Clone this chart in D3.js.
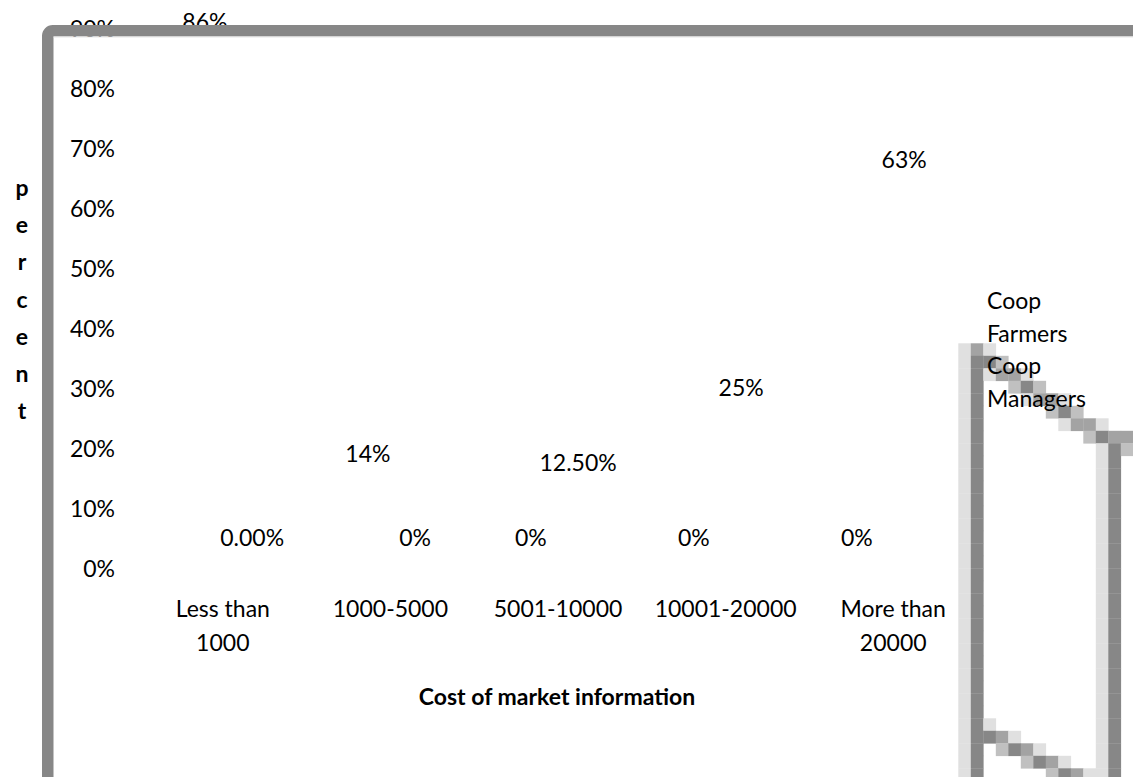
<!DOCTYPE html>
<html>
<head>
<meta charset="utf-8">
<script src="https://cdn.jsdelivr.net/npm/d3@7"></script>
<style>
  html, body { margin: 0; padding: 0; background: #ffffff; }
  svg { display: block; }
  text { font-family: Lato, "Open Sans", sans-serif; fill: #000; }
</style>
</head>
<body>
<svg id="chart" width="1133" height="777"></svg>
<script>
// Cost of market information, share of respondents per cost band
const categories = ["Less than 1000", "1000-5000", "5001-10000", "10001-20000", "More than 20000"];
const seriesNames = ["Coop Farmers", "Coop Managers"];
const farmersValues = [0.86, 0.14, 0, 0, 0];
const managersValues = [0, 0, 0.125, 0.25, 0.63];
const farmersLabelFormats = [".0%", ".0%", ".0%", ".0%", ".0%"];
const managersLabelFormats = [".2%", ".0%", ".2%", ".0%", ".0%"];
const yTicks = [0, 0.1, 0.2, 0.3, 0.4, 0.5, 0.6, 0.7, 0.8, 0.9];
const yTitle = "percent";
const xTitle = "Cost of market information";

const svg = d3.select("#chart");
const W = 1133, H = 777;
const FONT = 23;

svg.append("rect").attr("width", W).attr("height", H).attr("fill", "#ffffff");

const y = d3.scaleLinear().domain([0, 0.9]).range([568, 28]);

// category text positions
const xCat = d3.scaleBand().domain(categories).range([139, 977]);
// grouped bar positions
const x0 = d3.scaleBand().domain(categories).range([147, 962]);
const x1 = d3.scaleBand().domain(seriesNames)
  .range([x0.bandwidth() * 0.21, x0.bandwidth() * 0.79]);

const series = [
  { name: seriesNames[0], values: farmersValues, formats: farmersLabelFormats },
  { name: seriesNames[1], values: managersValues, formats: managersLabelFormats }
];

// y axis tick labels
const yAxis = svg.append("g")
  .attr("transform", "translate(115,0)")
  .call(d3.axisLeft(y).tickValues(yTicks).tickFormat(d3.format(".0%")).tickSize(0).tickPadding(0));
yAxis.select(".domain").remove();
yAxis.selectAll("text")
  .attr("font-family", "Lato, sans-serif")
  .attr("font-size", FONT)
  .attr("fill", "#000")
  .attr("dy", "0.36em");

// bars (white fill on white ground)
const groups = svg.append("g").selectAll("g")
  .data(series)
  .join("g");

groups.selectAll("rect")
  .data(s => s.values.map((v, i) => ({ s, v, cat: categories[i] })))
  .join("rect")
  .attr("x", d => x0(d.cat) + x1(d.s.name))
  .attr("width", x1.bandwidth())
  .attr("y", d => y(d.v))
  .attr("height", d => y(0) - y(d.v))
  .attr("fill", "#ffffff");

// data labels above bar tops
groups.selectAll("text.val")
  .data(s => s.values.map((v, i) => ({ s, v, i, cat: categories[i] })))
  .join("text")
  .attr("class", "val")
  .attr("x", d => x0(d.cat) + x1(d.s.name) + x1.bandwidth() / 2)
  .attr("y", d => y(d.v) - 30)
  .attr("dy", "0.36em")
  .attr("text-anchor", "middle")
  .attr("font-size", FONT)
  .text(d => d3.format(d.s.formats[d.i])(d.v));

// category axis labels, wrapped
const xAxis = svg.append("g")
  .attr("transform", "translate(0,568)")
  .call(d3.axisBottom(xCat).tickSize(0).tickPadding(0));
xAxis.select(".domain").remove();
xAxis.selectAll("text")
  .attr("font-family", "Lato, sans-serif")
  .attr("font-size", FONT)
  .attr("fill", "#000")
  .attr("y", 0)
  .attr("dy", 0)
  .each(function () {
    const t = d3.select(this);
    const words = t.text().split(/\s+/);
    const maxW = 118;
    t.text(null);
    let line = [];
    let lines = [];
    const probe = t.append("tspan");
    words.forEach(w => {
      const trial = line.concat(w).join(" ");
      probe.text(trial);
      if (probe.node().getComputedTextLength() > maxW && line.length) {
        lines.push(line.join(" "));
        line = [w];
      } else {
        line.push(w);
      }
    });
    lines.push(line.join(" "));
    probe.remove();
    lines.forEach((ln, k) => {
      t.append("tspan").attr("x", 0).attr("y", 48.5 + k * 34).text(ln);
    });
  });

// axis titles
svg.append("text")
  .attr("x", 557).attr("y", 705)
  .attr("text-anchor", "middle")
  .attr("font-size", FONT)
  .attr("font-weight", "bold")
  .text(xTitle);

svg.append("g").selectAll("text")
  .data(yTitle.split(""))
  .join("text")
  .attr("x", 22)
  .attr("y", (d, i) => 196 + i * 37.2)
  .attr("text-anchor", "middle")
  .attr("font-size", FONT)
  .attr("font-weight", "bold")
  .text(d => d);

// legend frame, drawn as a coarse block raster
const shade = { l: "#e0e0e0", c: "#c0c0c0", m: "#a3a3a3", d: "#878787" };
const topRows = [
  "lml...........",
  "lddc..........",
  "ldlmml........",
  "ld..cdc.......",
  "ld...lmml.....",
  "ld.....cdc....",
  "ld......lmml..",
  "ld........cdmm",
  "ld.........ldc"
];
const bottomRows = [
  "ldl........ld.",
  "lddml......ld.",
  "ld.cdml....ld.",
  "ld...cdml..ld.",
  "ld.....cdmlld."
];
const sideRow = "ld.........ld.";
const legendRows = topRows
  .concat(d3.range(30 - topRows.length).map(() => sideRow))
  .concat(bottomRows);
const bs = 12.5, gx = 958.3, gy = 343.3;
const cells = [];
legendRows.forEach((row, r) => {
  row.split("").forEach((ch, c) => {
    if (shade[ch]) cells.push({ r, c, fill: shade[ch] });
  });
});
svg.append("g").selectAll("rect")
  .data(cells)
  .join("rect")
  .attr("x", d => gx + d.c * bs)
  .attr("y", d => gy + d.r * bs)
  .attr("width", bs + 0.3)
  .attr("height", bs + 0.3)
  .attr("fill", d => d.fill);

// legend entries
const legend = svg.append("g");
seriesNames.forEach((name, i) => {
  const words = name.split(" ");
  words.forEach((w, k) => {
    legend.append("text")
      .attr("x", 987)
      .attr("y", 309 + (i * 2 + k) * 32.5)
      .attr("font-size", FONT)
      .text(w);
  });
});

// plot area frame
svg.append("rect")
  .attr("x", 47.75).attr("y", 30.75)
  .attr("width", 1300).attr("height", 1000)
  .attr("rx", 5)
  .attr("fill", "none")
  .attr("stroke", "#878787")
  .attr("stroke-width", 11.5);
svg.append("line")
  .attr("x1", 53.5).attr("x2", W)
  .attr("y1", 37).attr("y2", 37)
  .attr("stroke", "#e6e6e6")
  .attr("stroke-width", 1);
</script>
</body>
</html>
